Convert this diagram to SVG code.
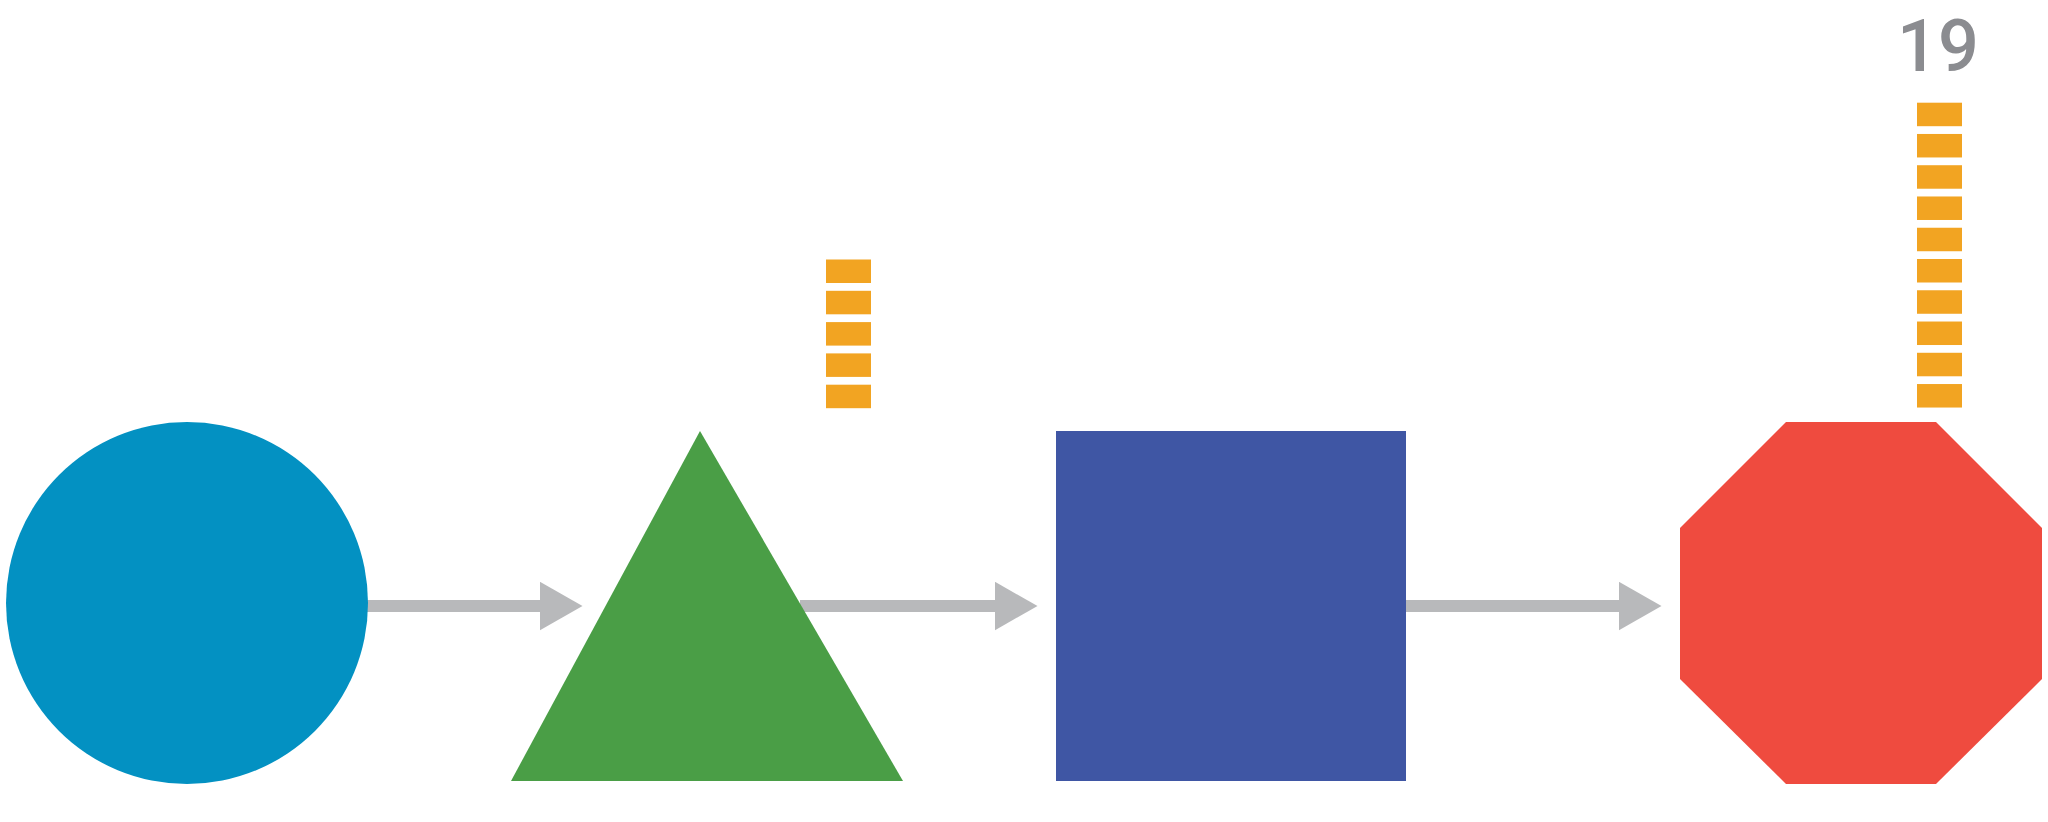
<svg xmlns="http://www.w3.org/2000/svg" width="2048" height="822" viewBox="0 0 2048 822">
  <style>
    .conn { stroke: #B8B9BB; stroke-width: 12; fill: none; }
    .blk { fill: #F2A422; }
    .lbl { font-family: Roboto, "Liberation Sans", sans-serif; font-size: 72px; font-weight: 500; fill: #8B8C90; }
  </style>
  <defs>
    <marker id="ah" markerUnits="userSpaceOnUse" markerWidth="43" markerHeight="49" refX="0.5" refY="24.5" orient="auto" viewBox="0 0 43 49">
      <path d="M0,0 L43,24.5 L0,49 Z" fill="#B8B9BB"/>
    </marker>
  </defs>
  <rect width="2048" height="822" fill="#FFFFFF"/>

  <g id="connectors">
    <line class="conn" x1="366" y1="606" x2="540" y2="606" marker-end="url(#ah)"/>
    <line class="conn" x1="800" y1="606" x2="995" y2="606" marker-end="url(#ah)"/>
    <line class="conn" x1="1405" y1="606" x2="1619" y2="606" marker-end="url(#ah)"/>
  </g>

  <g id="node-circle">
    <circle cx="187" cy="603" r="181" fill="#0391C2"/>
  </g>

  <g id="node-triangle">
    <polygon points="700,431 903,781 511,781" fill="#4A9E46"/>
  </g>

  <g id="node-square">
    <rect x="1056" y="431" width="350" height="350" fill="#3F56A4"/>
  </g>

  <g id="node-octagon">
    <polygon points="1786,422 1936,422 2042,528 2042,679 1936,784 1786,784 1680,679 1680,528" fill="#EF4B3F"/>
  </g>

  <g id="stack-triangle">
    <rect class="blk" x="826" y="259.5" width="45" height="23.5"/>
    <rect class="blk" x="826" y="290.8" width="45" height="23.5"/>
    <rect class="blk" x="826" y="322.1" width="45" height="23.5"/>
    <rect class="blk" x="826" y="353.4" width="45" height="23.5"/>
    <rect class="blk" x="826" y="384.7" width="45" height="23.5"/>
  </g>

  <g id="stack-octagon">
    <rect class="blk" x="1917" y="102.7" width="45" height="23.5"/>
    <rect class="blk" x="1917" y="133.96" width="45" height="23.5"/>
    <rect class="blk" x="1917" y="165.22" width="45" height="23.5"/>
    <rect class="blk" x="1917" y="196.48" width="45" height="23.5"/>
    <rect class="blk" x="1917" y="227.74" width="45" height="23.5"/>
    <rect class="blk" x="1917" y="259.0" width="45" height="23.5"/>
    <rect class="blk" x="1917" y="290.26" width="45" height="23.5"/>
    <rect class="blk" x="1917" y="321.52" width="45" height="23.5"/>
    <rect class="blk" x="1917" y="352.78" width="45" height="23.5"/>
    <rect class="blk" x="1917" y="384.04" width="45" height="23.5"/>
    <text class="lbl" x="1938" y="71" text-anchor="middle">19</text>
  </g>
</svg>
